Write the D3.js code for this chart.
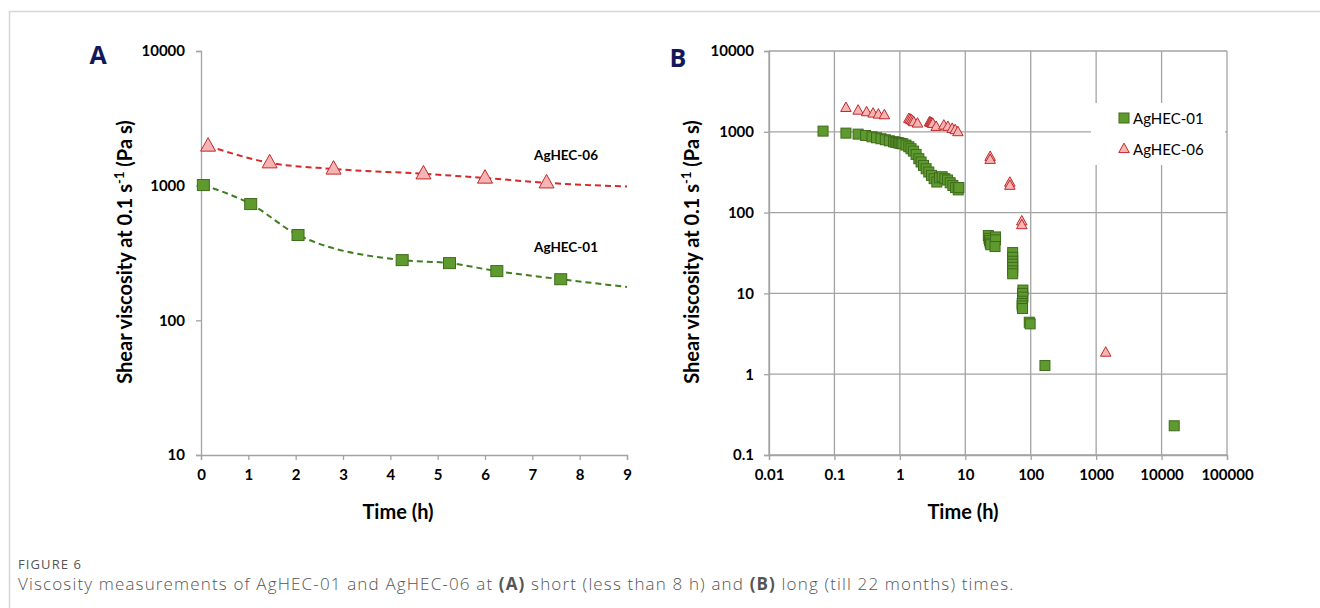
<!DOCTYPE html>
<html>
<head>
<meta charset="utf-8">
<script src="https://cdn.jsdelivr.net/npm/d3@7"></script>
<style>
  html, body { margin: 0; padding: 0; background: #ffffff; }
  svg { display: block; }
</style>
</head>
<body>
<svg id="chart" width="1320" height="608"></svg>
<script>
// ---------- DATA ----------
// Panel A: short times (h)
const shortTime01 = [0.05, 1.05, 2.05, 4.25, 5.25, 6.25, 7.6];
const shortVisc01 = [1010, 730, 430, 280, 266, 232, 202];
const shortTime06 = [0.15, 1.45, 2.8, 4.7, 6.0, 7.3];
const shortVisc06 = [1970, 1480, 1330, 1225, 1140, 1050];
// dashed trend lines continue to the end of the axis
const trendEndTime = 9;
const trendEndVisc01 = 177;
const trendEndVisc06 = 985;
const xTicksA = [0, 1, 2, 3, 4, 5, 6, 7, 8, 9];
const yTicksA = [10, 100, 1000, 10000];

// Panel B: long times (h)
const longTime01 = [0.067, 0.15, 0.23, 0.30, 0.375, 0.44, 0.515, 0.60, 0.69, 0.80, 0.85, 0.90, 0.95, 1.0, 1.05,
  1.11, 1.24, 1.37, 1.48, 1.61, 1.77, 1.95, 2.11, 2.30, 2.52, 2.77, 3.04, 3.34, 3.67, 4.04, 4.43, 4.87, 5.36,
  5.88, 6.46, 7.10, 7.80, 7.98,
  22.5, 23, 23.5, 24, 24.5, 29, 29, 28.5,
  53, 53, 53, 53, 53, 53, 53,
  76, 75, 76, 75, 74, 74, 75,
  95, 98, 165, 15600];
const longVisc01 = [1020, 963, 936, 901, 867, 843, 820, 797, 774, 753, 745, 738, 730, 722, 715,
  711, 685, 653, 617, 577, 525, 464, 423, 384, 349, 318, 289, 263, 239, 270, 278, 263, 253,
  234, 217, 204, 191, 204,
  52, 48, 45, 42, 40, 50, 46, 38,
  32, 28, 25, 23, 21, 19, 17.5,
  11, 10, 9, 8, 7.5, 7, 6.5,
  4.4, 4.2, 1.28, 0.23];
const longTime06 = [0.15, 0.23, 0.31, 0.39, 0.47, 0.58, 1.37, 1.43, 1.50, 1.57, 1.63, 1.86,
  2.84, 2.92, 3.01, 3.10, 3.19, 3.59, 4.70, 5.42, 6.31, 7.0, 7.71,
  24, 24, 48, 48, 73, 73, 1400];
const longVisc06 = [1977, 1833, 1750, 1683, 1636, 1606, 1446, 1420, 1393, 1355, 1316, 1267,
  1316, 1300, 1291, 1270, 1256, 1153, 1197, 1153, 1089, 1050, 991,
  490, 450, 235, 215, 78, 70, 1.85];
const xTicksB = [0.01, 0.1, 1, 10, 100, 1000, 10000, 100000];
const xTickLabelsB = ["0.01", "0.1", "1", "10", "100", "1000", "10000", "100000"];
const yTicksB = [0.1, 1, 10, 100, 1000, 10000];
const yTickLabelsB = ["0.1", "1", "10", "100", "1000", "10000"];

const seriesNames = ["AgHEC-01", "AgHEC-06"];
const captionTitle = "FIGURE 6";

// ---------- STYLE ----------
const FONT = "Lato, 'Open Sans', sans-serif";
const greenFill = "#5f9a2f", greenStroke = "#3e6b1b", greenLine = "#3f7d1e";
const redFill = "#f6b4b4", redStroke = "#c0292b", redLine = "#d42a2a";
const axisColor = "#a3a3a3";

const svg = d3.select("#chart");

// frame lines
svg.append("line").attr("x1", 9).attr("x2", 1320).attr("y1", 11.5).attr("y2", 11.5)
  .attr("stroke", "#d6d6d6").attr("stroke-width", 1.5);
svg.append("line").attr("x1", 9.5).attr("x2", 9.5).attr("y1", 11).attr("y2", 608)
  .attr("stroke", "#d6d6d6").attr("stroke-width", 1.5);

function yTitle(x, y) {
  const t = svg.append("text")
    .attr("transform", `translate(${x},${y}) rotate(-90)`)
    .attr("text-anchor", "middle")
    .attr("font-family", FONT).attr("font-weight", 700).attr("font-size", 20).attr("fill", "#000");
  t.append("tspan").text("Shear viscosity at 0.1 s");
  t.append("tspan").attr("dy", -8).attr("font-size", 13).text("-1");
  t.append("tspan").attr("dy", 8).text(" (Pa s)");
}
function panelLetter(x, y, s) {
  svg.append("text").attr("x", x).attr("y", y).attr("text-anchor", "middle")
    .attr("font-family", "'Open Sans', sans-serif").attr("font-weight", 700).attr("font-size", 25)
    .attr("fill", "#13185a").text(s);
}
function xTitle(x, y) {
  svg.append("text").attr("x", x).attr("y", y).attr("text-anchor", "middle")
    .attr("font-family", FONT).attr("font-weight", 700).attr("font-size", 20).attr("fill", "#000")
    .text("Time (h)");
}
function triangle(size) {
  const h = size * 0.9;
  return `M0,${-h * 0.62}L${size / 2},${h * 0.38}L${-size / 2},${h * 0.38}Z`;
}

// ---------- PANEL A ----------
const xA = d3.scaleLinear().domain([0, 9]).range([201, 627]);
const yA = d3.scaleLog().domain([10, 10000]).range([455, 51]);

const gA = svg.append("g");
const axAx = gA.append("g").attr("transform", `translate(0,${yA(10)})`)
  .call(d3.axisBottom(xA).tickValues(xTicksA).tickFormat(d3.format("d")).tickSize(5).tickPadding(9));
const axAy = gA.append("g").attr("transform", `translate(${xA(0)},0)`)
  .call(d3.axisLeft(yA).tickValues(yTicksA).tickFormat(d3.format("d")).tickSize(5).tickPadding(11));
[axAx, axAy].forEach(a => {
  a.select(".domain").attr("stroke", axisColor).attr("stroke-width", 1.3);
  a.selectAll(".tick line").attr("stroke", axisColor).attr("stroke-width", 1.3);
  a.selectAll(".tick text").attr("font-family", FONT).attr("font-weight", 700).attr("font-size", 15).attr("fill", "#000");
});
axAx.selectAll(".tick text").attr("dy", "0.71em");

const lineA = d3.line().x(d => xA(d[0])).y(d => yA(d[1])).curve(d3.curveMonotoneX);
const ptsA01 = shortTime01.map((t, i) => [t, shortVisc01[i]]);
const ptsA06 = shortTime06.map((t, i) => [t, shortVisc06[i]]);
gA.append("path").datum(ptsA01.concat([[trendEndTime, trendEndVisc01]])).attr("d", lineA)
  .attr("fill", "none").attr("stroke", greenLine).attr("stroke-width", 2).attr("stroke-dasharray", "6,4");
gA.append("path").datum(ptsA06.concat([[trendEndTime, trendEndVisc06]])).attr("d", lineA)
  .attr("fill", "none").attr("stroke", redLine).attr("stroke-width", 2).attr("stroke-dasharray", "6,4");

gA.selectAll("rect.sq").data(ptsA01).join("rect").attr("class", "sq")
  .attr("x", d => xA(d[0]) - 6).attr("y", d => yA(d[1]) - 5.5).attr("width", 12).attr("height", 11)
  .attr("fill", greenFill).attr("stroke", greenStroke).attr("stroke-width", 1);
gA.selectAll("path.tri").data(ptsA06).join("path").attr("class", "tri")
  .attr("transform", d => `translate(${xA(d[0])},${yA(d[1])})`)
  .attr("d", triangle(15))
  .attr("fill", redFill).attr("stroke", redStroke).attr("stroke-width", 1);

gA.append("text").attr("x", 566).attr("y", 160).attr("text-anchor", "middle")
  .attr("font-family", FONT).attr("font-weight", 700).attr("font-size", 13.5).text(seriesNames[1]);
gA.append("text").attr("x", 566).attr("y", 252).attr("text-anchor", "middle")
  .attr("font-family", FONT).attr("font-weight", 700).attr("font-size", 13.5).text(seriesNames[0]);

panelLetter(98, 64, "A");
yTitle(132, 252);
xTitle(398, 519);

// ---------- PANEL B ----------
const xB = d3.scaleLog().domain([0.01, 100000]).range([769, 1227]);
const yB = d3.scaleLog().domain([0.1, 10000]).range([455, 51]);
const gB = svg.append("g");

// gridlines
gB.selectAll("line.gx").data(xTicksB).join("line").attr("class", "gx")
  .attr("x1", d => xB(d)).attr("x2", d => xB(d)).attr("y1", yB(10000)).attr("y2", yB(0.1))
  .attr("stroke", axisColor).attr("stroke-width", 1.3);
gB.selectAll("line.gy").data(yTicksB).join("line").attr("class", "gy")
  .attr("x1", xB(0.01)).attr("x2", xB(100000)).attr("y1", d => yB(d)).attr("y2", d => yB(d))
  .attr("stroke", axisColor).attr("stroke-width", 1.3);

const axBx = gB.append("g").attr("transform", `translate(0,${yB(0.1)})`)
  .call(d3.axisBottom(xB).tickValues(xTicksB).tickFormat((d, i) => xTickLabelsB[i]).tickSize(5).tickPadding(9));
const axBy = gB.append("g").attr("transform", `translate(${xB(0.01)},0)`)
  .call(d3.axisLeft(yB).tickValues(yTicksB).tickFormat((d, i) => yTickLabelsB[i]).tickSize(5).tickPadding(10));
[axBx, axBy].forEach(a => {
  a.select(".domain").attr("stroke", axisColor).attr("stroke-width", 1.3);
  a.selectAll(".tick line").attr("stroke", axisColor).attr("stroke-width", 1.3);
  a.selectAll(".tick text").attr("font-family", FONT).attr("font-weight", 700).attr("font-size", 15).attr("fill", "#000");
});
axBx.selectAll(".tick text").attr("dy", "0.71em");

const ptsB01 = longTime01.map((t, i) => [t, longVisc01[i]]);
const ptsB06 = longTime06.map((t, i) => [t, longVisc06[i]]);
gB.selectAll("rect.sq").data(ptsB01).join("rect").attr("class", "sq")
  .attr("x", d => xB(d[0]) - 5).attr("y", d => yB(d[1]) - 5).attr("width", 10).attr("height", 10)
  .attr("fill", greenFill).attr("stroke", greenStroke).attr("stroke-width", 1);
gB.selectAll("path.tri").data(ptsB06).join("path").attr("class", "tri")
  .attr("transform", d => `translate(${xB(d[0])},${yB(d[1])})`)
  .attr("d", triangle(10.5))
  .attr("fill", redFill).attr("stroke", redStroke).attr("stroke-width", 1);

// legend
const lg = gB.append("g");
lg.append("rect").attr("x", 1091).attr("y", 103).attr("width", 134).attr("height", 62).attr("fill", "#fff");
lg.append("rect").attr("x", 1119).attr("y", 113).attr("width", 10).attr("height", 10)
  .attr("fill", greenFill).attr("stroke", greenStroke);
lg.append("path").attr("transform", "translate(1124,149)").attr("d", triangle(10.5))
  .attr("fill", redFill).attr("stroke", redStroke);
lg.append("text").attr("x", 1133).attr("y", 123.5).attr("font-family", FONT).attr("font-size", 15).text(seriesNames[0]);
lg.append("text").attr("x", 1133).attr("y", 154.5).attr("font-family", FONT).attr("font-size", 15).text(seriesNames[1]);

panelLetter(678, 67, "B");
yTitle(699, 252);
xTitle(963, 519);

// ---------- CAPTION ----------
svg.append("text").attr("x", 18).attr("y", 569).attr("font-family", "'Open Sans', sans-serif")
  .attr("font-size", 13).attr("letter-spacing", 1.1).attr("fill", "#555").text(captionTitle);
const cap = svg.append("text").attr("x", 18).attr("y", 590).attr("font-family", "'Open Sans', sans-serif")
  .attr("font-size", 17).attr("font-weight", 300).attr("letter-spacing", 1.15).attr("fill", "#555");
cap.append("tspan").text("Viscosity measurements of AgHEC-01 and AgHEC-06 at ");
cap.append("tspan").attr("font-weight", 700).text("(A)");
cap.append("tspan").text(" short (less than 8 h) and ");
cap.append("tspan").attr("font-weight", 700).text("(B)");
cap.append("tspan").text(" long (till 22 months) times.");
</script>
</body>
</html>
